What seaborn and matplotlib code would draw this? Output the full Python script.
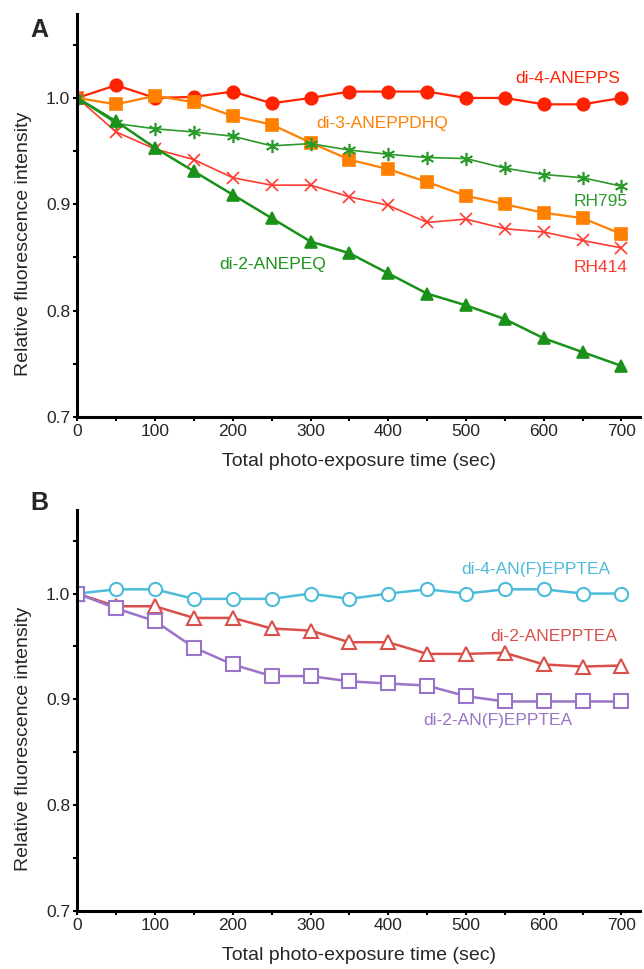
import matplotlib
matplotlib.use("Agg")
import matplotlib.pyplot as plt
import seaborn as sns
import pandas as pd

sns.set_theme(style="white")
plt.rcParams['font.family'] = ['Liberation Sans', 'DejaVu Sans']

time = [0, 50, 100, 150, 200, 250, 300, 350, 400, 450, 500, 550, 600, 650, 700]

# Panel A
di4_anepps = [1.0, 1.012, 1.0, 1.001, 1.006, 0.995, 1.0, 1.006, 1.006, 1.006, 1.0, 1.0, 0.994, 0.994, 1.0]
di3_aneppdhq = [1.0, 0.994, 1.002, 0.996, 0.983, 0.975, 0.958, 0.942, 0.933, 0.921, 0.908, 0.900, 0.892, 0.887, 0.872]
rh795 = [1.0, 0.976, 0.971, 0.968, 0.964, 0.955, 0.957, 0.951, 0.947, 0.944, 0.943, 0.934, 0.928, 0.925, 0.917]
rh414 = [1.0, 0.968, 0.952, 0.942, 0.925, 0.918, 0.918, 0.907, 0.899, 0.883, 0.886, 0.877, 0.874, 0.866, 0.859]
di2_anepeq = [1.0, 0.978, 0.953, 0.931, 0.909, 0.887, 0.865, 0.854, 0.835, 0.816, 0.805, 0.792, 0.774, 0.761, 0.748]

# Panel B
di4_anf_epptea = [1.0, 1.004, 1.004, 0.995, 0.995, 0.995, 1.0, 0.995, 1.0, 1.004, 1.0, 1.004, 1.004, 1.0, 1.0]
di2_anepptea = [1.0, 0.988, 0.988, 0.977, 0.977, 0.967, 0.965, 0.954, 0.954, 0.943, 0.943, 0.944, 0.933, 0.931, 0.932]
di2_anf_epptea = [1.0, 0.986, 0.974, 0.949, 0.933, 0.922, 0.922, 0.917, 0.915, 0.913, 0.903, 0.898, 0.898, 0.898, 0.898]

x_ticks = [0, 100, 200, 300, 400, 500, 600, 700]
y_ticks = [0.7, 0.8, 0.9, 1.0]
y_tick_labels = ["0.7", "0.8", "0.9", "1.0"]

fig = plt.figure(figsize=(6.44, 9.69), dpi=100)
axA = fig.add_axes([0.12, 0.5697, 0.874, 0.4159])
axB = fig.add_axes([0.12, 0.0599, 0.874, 0.4138])

seriesA = [
    (di4_anepps, "#ff2200", "o", 9.0, 1.6),
    (di3_aneppdhq, "#ff8000", "s", 8.5, 1.6),
    (rh795, "#2a9a2a", (6, 2, 0), 9.5, 1.2),
    (rh414, "#ff3b30", "x", 8.0, 1.2),
    (di2_anepeq, "#1a921a", "^", 8.5, 1.8),
]
for vals, col, mk, ms, lw in seriesA:
    df = pd.DataFrame({"t": time, "v": vals})
    sns.lineplot(data=df, x="t", y="v", ax=axA, color=col, marker=mk,
                 markersize=ms, linewidth=lw, markeredgecolor=col,
                 markerfacecolor=col, markeredgewidth=1.2)

seriesB = [
    (di4_anf_epptea, "#4dbcd8", "o"),
    (di2_anepptea, "#d9504a", "^"),
    (di2_anf_epptea, "#9a74c8", "s"),
]
for vals, col, mk in seriesB:
    df = pd.DataFrame({"t": time, "v": vals})
    sns.lineplot(data=df, x="t", y="v", ax=axB, color=col, marker=mk,
                 markersize=9.5, linewidth=1.8, markeredgecolor=col,
                 markerfacecolor="white", markeredgewidth=1.5)

for ax in (axA, axB):
    ax.set_xlim(0, 724)
    ax.set_ylim(0.7, 1.079)
    ax.set_xticks(x_ticks)
    ax.set_xticks([50, 150, 250, 350, 450, 550, 650], minor=True)
    ax.set_yticks(y_ticks)
    ax.set_yticklabels(y_tick_labels)
    ax.set_yticks([0.75, 0.85, 0.95, 1.05], minor=True)
    for s in ("top", "right"):
        ax.spines[s].set_visible(False)
    for s in ("left", "bottom"):
        ax.spines[s].set_color("black")
        ax.spines[s].set_linewidth(2.2)
    ax.tick_params(axis="both", which="both", direction="out", length=3,
                   width=1.5, color="black", labelsize=12.5, pad=2,
                   bottom=True, left=True)
    ax.set_xlabel("Total photo-exposure time (sec)", fontsize=14, labelpad=10)
    ax.set_ylabel("Relative fluorescence intensity", fontsize=14, labelpad=6)
    ax.yaxis.set_label_coords(-0.08, 0.43)
    ax.set_facecolor("white")

fs = 12.5
axA.text(698, 1.018, "di-4-ANEPPS", color="#ff2200", ha="right", va="center", fontsize=fs)
axA.text(308, 0.976, "di-3-ANEPPDHQ", color="#ff8000", ha="left", va="center", fontsize=fs)
axA.text(708, 0.903, "RH795", color="#2a9a2a", ha="right", va="center", fontsize=fs)
axA.text(708, 0.841, "RH414", color="#ff3b30", ha="right", va="center", fontsize=fs)
axA.text(183, 0.843, "di-2-ANEPEQ", color="#1a921a", ha="left", va="center", fontsize=fs)

axB.text(686, 1.0225, "di-4-AN(F)EPPTEA", color="#4dbcd8", ha="right", va="center", fontsize=fs)
axB.text(695, 0.959, "di-2-ANEPPTEA", color="#d9504a", ha="right", va="center", fontsize=fs)
axB.text(637, 0.880, "di-2-AN(F)EPPTEA", color="#9a74c8", ha="right", va="center", fontsize=fs)

fig.text(30 / 644, 1 - 30 / 969, "A", fontsize=18, fontweight="bold", ha="left", va="center")
fig.text(30 / 644, 1 - 503 / 969, "B", fontsize=18, fontweight="bold", ha="left", va="center")

fig.savefig("out.png", dpi=100, facecolor="white")
